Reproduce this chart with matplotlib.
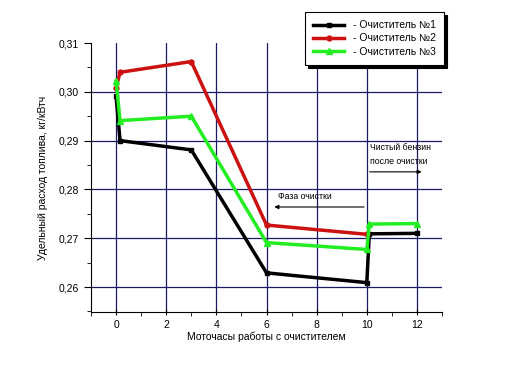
import matplotlib
matplotlib.use("Agg")
import matplotlib.pyplot as plt
from matplotlib.ticker import FuncFormatter, MultipleLocator

plt.rcParams['font.family'] = ['Liberation Sans', 'DejaVu Sans']

# Data
labels = ["- Очиститель №1", "- Очиститель №2", "- Очиститель №3"]
hours1 = [0, 0.16, 3, 6, 10, 10.1, 12]
fuel1 = [0.2991, 0.2900, 0.2881, 0.2629, 0.2609, 0.2709, 0.2710]
hours2 = [0, 0.16, 3, 6, 10]
fuel2 = [0.3008, 0.3040, 0.3062, 0.2727, 0.2708]
hours3 = [0, 0.16, 3, 6, 10, 10.1, 12]
fuel3 = [0.3022, 0.2941, 0.2950, 0.2691, 0.2677, 0.2729, 0.2730]

xticks = [0, 2, 4, 6, 8, 10, 12]
yticks = [0.26, 0.27, 0.28, 0.29, 0.30, 0.31]

fig = plt.figure(figsize=(5.14, 3.74), dpi=100)
ax = fig.add_axes([0.177, 0.166, 0.683, 0.719])

grid_col = '#1a1a66'
for x in xticks:
    ax.axvline(x, color=grid_col, lw=0.9, zorder=1)
for y in yticks[:-1]:
    ax.axhline(y, color=grid_col, lw=0.9, zorder=1)

ax.plot(hours1, fuel1, color='black', lw=2.5, marker='s', ms=3.5, label=labels[0], zorder=3)
ax.plot(hours2, fuel2, color='#cc1111', lw=2.5, marker='o', ms=3.5, label=labels[1], zorder=3)
ax.plot(hours3, fuel3, color='#22ee22', lw=2.5, marker='^', ms=4, label=labels[2], zorder=4)

# annotations
ax.annotate('', xy=(6.2, 0.2764), xytext=(10, 0.2764),
            arrowprops=dict(arrowstyle='-|>', color='black', lw=0.8, mutation_scale=6))
ax.text(6.45, 0.2786, 'Фаза очистки', fontsize=6.3, va='center')
ax.annotate('', xy=(12.3, 0.2836), xytext=(10, 0.2836),
            arrowprops=dict(arrowstyle='-|>', color='black', lw=0.8, mutation_scale=6))
ax.text(10.13, 0.2885, 'Чистый бензин', fontsize=6.3, va='center')
ax.text(10.13, 0.2858, 'после очистки', fontsize=6.3, va='center')

ax.set_xlim(-1, 13)
ax.set_ylim(0.2549, 0.31)
ax.set_xticks(xticks)
ax.xaxis.set_minor_locator(MultipleLocator(1))
ax.set_yticks(yticks)
ax.yaxis.set_minor_locator(MultipleLocator(0.005))
ax.yaxis.set_major_formatter(FuncFormatter(lambda v, p: '{:.2f}'.format(v).replace('.', ',')))
ax.tick_params(labelsize=7.5, length=4, width=0.8)
ax.tick_params(axis='x', direction='inout', length=5)
ax.tick_params(axis='y', direction='out', length=5)
ax.tick_params(which='minor', length=3)

ax.spines['top'].set_visible(False)
ax.spines['right'].set_visible(False)

ax.set_xlabel('Моточасы работы с очистителем', fontsize=7.5, labelpad=1)
ax.set_ylabel('Удельный расход топлива, кг/кВтч', fontsize=7.5, labelpad=8)

leg = ax.legend(loc='upper left', bbox_to_anchor=(0.593, 0.968), bbox_transform=fig.transFigure,
                fontsize=7.5, frameon=True, fancybox=False, edgecolor='black',
                shadow={'color': 'black', 'alpha': 1}, handlelength=3, borderpad=0.8,
                labelspacing=0.3, borderaxespad=0)
leg.get_frame().set_linewidth(0.8)
leg.set_zorder(10)

fig.savefig('out.png', dpi=100)
